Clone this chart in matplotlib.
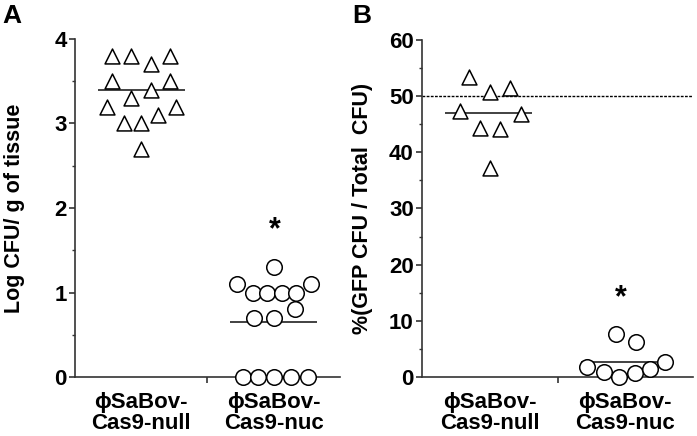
import numpy as np
from matplotlib import pyplot as plt

plt.rcParams['font.family'] = ['Liberation Sans', 'DejaVu Sans']
plt.rcParams['font.weight'] = 'bold'

groups = ["\u03d5SaBov-\nCas9-null", "\u03d5SaBov-\nCas9-nuc"]

# panel A: log CFU / g of tissue
a_null_x = [-0.22, -0.075, 0.075, 0.22, -0.22, 0.22, 0.075, -0.075, -0.26, 0.26, 0.13, -0.13, 0.0, 0.0]
a_null_y = [3.8, 3.8, 3.7, 3.8, 3.5, 3.5, 3.4, 3.3, 3.2, 3.2, 3.1, 3.0, 3.0, 2.7]
a_nuc_x = [-0.16, -0.05, 0.06, 0.17, -0.28, 0.28, 0.0, 0.16, -0.15, 0.0, -0.23, -0.12, 0.0, 0.13, 0.26]
a_nuc_y = [1.0, 1.0, 1.0, 1.0, 1.1, 1.1, 1.3, 0.8, 0.7, 0.7, 0.0, 0.0, 0.0, 0.0, 0.0]
a_means = [3.4, 0.65]

# panel B: % GFP CFU / total CFU
b_null_x = [-0.15, 0.0, 0.15, -0.22, 0.23, -0.075, 0.075, 0.0]
b_null_y = [53.4, 50.7, 51.4, 47.3, 46.8, 44.3, 44.1, 37.2]
b_nuc_x = [-0.07, 0.08, -0.28, -0.16, -0.045, 0.07, 0.18, 0.29]
b_nuc_y = [7.6, 6.2, 1.8, 0.9, 0.0, 0.7, 1.4, 2.7]
b_means = [47.0, 2.7]


def style_axis(ax, ymax, major, minor, ylabel):
    ax.set_xlim(-0.5, 1.5)
    ax.set_ylim(0, ymax)
    for s in ['top', 'right']:
        ax.spines[s].set_visible(False)
    for s in ['left', 'bottom']:
        ax.spines[s].set_linewidth(1.2)
        ax.spines[s].set_color('#333333')
    ax.set_yticks(np.arange(0, ymax + 0.01, major))
    ax.set_yticks(np.arange(minor, ymax, major), minor=True)
    ax.set_xticks([0, 1])
    ax.set_xticklabels(groups, fontsize=16, fontweight='bold', linespacing=1.0)
    ax.set_xticks([0.5], minor=True)
    ax.tick_params(axis='x', which='major', length=0, pad=11)
    ax.tick_params(axis='x', which='minor', length=4, width=1.2, color='#333333')
    ax.tick_params(axis='y', which='major', length=4, width=1.2, color='#333333',
                   labelsize=16, pad=2)
    ax.tick_params(axis='y', which='minor', length=2.5, width=1.0, color='#333333')
    for lbl in ax.get_yticklabels():
        lbl.set_fontweight('bold')
    ax.set_ylabel(ylabel, fontsize=15.5, fontweight='bold')


def main():
    fig = plt.figure(figsize=(6.97, 4.36), dpi=100)
    ax1 = fig.add_axes([0.1076, 0.1353, 0.3802, 0.7753])
    ax2 = fig.add_axes([0.6055, 0.1353, 0.3888, 0.7730])

    tri = dict(marker='^', s=115, facecolors='white', edgecolors='black',
               linewidths=1.1, clip_on=False, zorder=3)
    circ = dict(marker='o', s=125, facecolors='white', edgecolors='black',
                linewidths=1.1, clip_on=False, zorder=3)

    ax1.scatter(a_null_x, a_null_y, **tri)
    ax1.scatter(1 + np.array(a_nuc_x), a_nuc_y, **circ)
    for i, m in enumerate(a_means):
        ax1.hlines(m, i - 0.33, i + 0.33, color='#333333', lw=1.3, zorder=2)
    ax1.text(1.01, 1.74, '*', ha='center', va='center', fontsize=22, fontweight='bold')
    style_axis(ax1, 4, 1, 0.5, 'Log CFU/ g of tissue')
    ax1.yaxis.set_label_coords(-0.19, 0.5)

    ax2.scatter(b_null_x, b_null_y, **tri)
    ax2.scatter(1 + np.array(b_nuc_x), b_nuc_y, **circ)
    for i, m in enumerate(b_means):
        ax2.hlines(m, i - 0.33, i + 0.31, color='#333333', lw=1.3, zorder=2)
    ax2.axhline(50, color='black', lw=1.0, ls=(0, (2, 1)), zorder=1)
    ax2.text(0.97, 14, '*', ha='center', va='center', fontsize=22, fontweight='bold')
    style_axis(ax2, 60, 10, 5, '%(GFP CFU / Total  CFU)')
    ax2.yaxis.set_label_coords(-0.18, 0.5)

    fig.text(0.004, 0.99, 'A', fontsize=19, fontweight='bold', va='top', ha='left')
    fig.text(0.505, 0.99, 'B', fontsize=19, fontweight='bold', va='top', ha='left')

    fig.savefig('out.png', dpi=100)


if __name__ == "__main__":
    main()
